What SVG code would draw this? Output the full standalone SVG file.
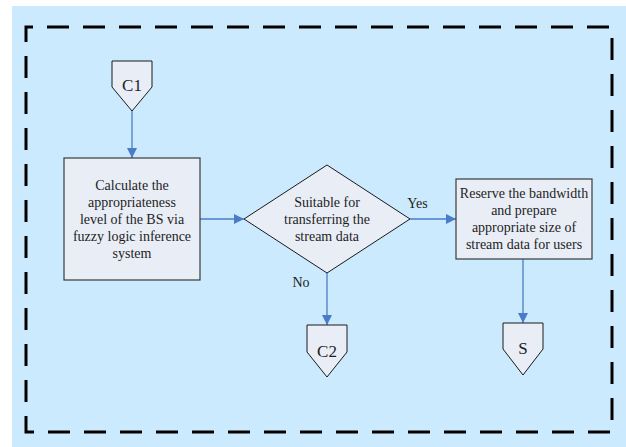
<svg xmlns="http://www.w3.org/2000/svg" width="626" height="447" viewBox="0 0 626 447">
  <style>
    .node { fill: #e8edf6; stroke: #1a1a1a; stroke-width: 1; }
    .box { fill: #e8edf6; stroke: #3a3a3a; stroke-width: 1.2; }
    .lbl { font-family: "Liberation Serif", "Times New Roman", serif; font-size: 14px; fill: #1e1e1e; text-anchor: middle; }
    .big { font-size: 17px; }
    .edge { fill: none; stroke: #4a7bc8; stroke-width: 1.3; }
  </style>
  <defs>
    <marker id="arrow" viewBox="0 0 10 10" refX="10" refY="5" markerWidth="10" markerHeight="10" markerUnits="userSpaceOnUse" orient="auto">
      <path d="M0,0 L10,5 L0,10 Z" fill="#4a7bc8"/>
    </marker>
  </defs>

  <!-- backdrop -->
  <rect x="12" y="6" width="614" height="441" fill="#cceafd"/>

  <!-- dashed boundary -->
  <path d="M26,432 L26,27 L612,27 L612,432 Z" fill="none" stroke="#000" stroke-width="3" stroke-dasharray="22 14" stroke-dashoffset="6"/>

  <!-- connectors -->
  <g id="connectors">
    <line class="edge" x1="132" y1="111" x2="132" y2="158" marker-end="url(#arrow)"/>
    <line class="edge" x1="200" y1="219" x2="244" y2="219" marker-end="url(#arrow)"/>
    <line class="edge" x1="410" y1="219" x2="456" y2="219" marker-end="url(#arrow)"/>
    <line class="edge" x1="327" y1="273" x2="327" y2="325" marker-end="url(#arrow)"/>
    <line class="edge" x1="523" y1="259" x2="523" y2="323" marker-end="url(#arrow)"/>
    <text class="lbl" x="417.5" y="208">Yes</text>
    <text class="lbl" x="301" y="287">No</text>
  </g>

  <g id="c1">
    <path class="node" d="M112,61 H152 V87 L132,111 L112,87 Z"/>
    <text class="lbl big" x="132" y="91">C1</text>
  </g>

  <g id="calculate">
    <rect class="box" x="64" y="158" width="136" height="122"/>
    <text class="lbl" x="132" y="190">Calculate the</text>
    <text class="lbl" x="132" y="207">appropriateness</text>
    <text class="lbl" x="132" y="224">level of the BS via</text>
    <text class="lbl" x="132" y="241">fuzzy logic inference</text>
    <text class="lbl" x="132" y="258">system</text>
  </g>

  <g id="decision">
    <path class="node" d="M244,219 L327,165 L410,219 L327,273 Z"/>
    <text class="lbl" x="327" y="207">Suitable for</text>
    <text class="lbl" x="327" y="224">transferring the</text>
    <text class="lbl" x="327" y="241">stream data</text>
  </g>

  <g id="reserve">
    <rect class="box" x="456" y="179" width="136" height="80"/>
    <text class="lbl" x="524" y="198">Reserve the bandwidth</text>
    <text class="lbl" x="524" y="215">and prepare</text>
    <text class="lbl" x="524" y="232">appropriate size of</text>
    <text class="lbl" x="524" y="249">stream data for users</text>
  </g>

  <g id="c2">
    <path class="node" d="M307,325 H347 V352 L327,377 L307,352 Z"/>
    <text class="lbl big" x="327" y="357">C2</text>
  </g>

  <g id="s">
    <path class="node" d="M503,323 H543 V349 L523,375 L503,349 Z"/>
    <text class="lbl big" x="523" y="354">S</text>
  </g>
</svg>
